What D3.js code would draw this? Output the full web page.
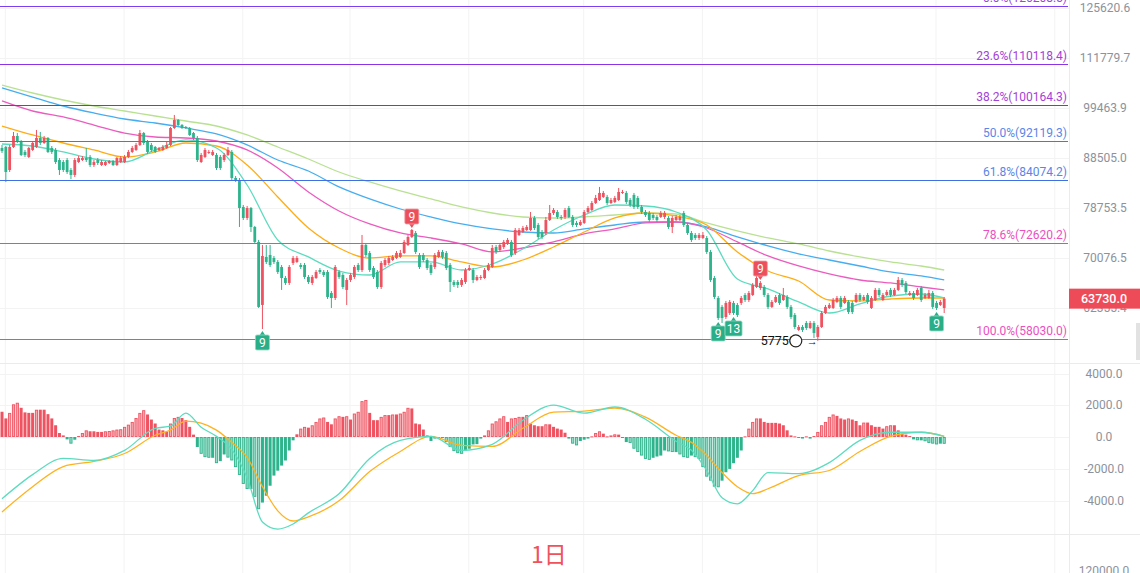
<!DOCTYPE html>
<html><head><meta charset="utf-8">
<script src="https://cdn.jsdelivr.net/npm/d3@7"></script>
<style>html,body{margin:0;padding:0;background:#fff;overflow:hidden}svg{display:block;font-family:Roboto,"Noto Sans",sans-serif}</style>
</head><body><svg id="c" width="1140" height="573"></svg>
<script>
// ---- DATA ----
const candles = [ // [open, high, low, close]
[90600,91240,89550,89970],[90810,91020,83690,85660],[86060,91240,85660,90810],[90810,94050,90600,93170],[93170,93820,91660,92090],
[91880,92310,88920,89130],[89760,90180,88720,89130],[88720,90810,88500,90600],[90180,92090,89970,91660],[90810,94490,90600,92740],
[92740,94050,91240,91660],[91660,93170,91450,92740],[92740,92950,89550,89760],[90600,91020,89340,89760],[90180,90600,87280,87680],
[88090,88500,85070,86060],[87680,88090,85660,86060],[88090,88500,85270,85660],[86060,86460,84270,85070],[85070,88500,84670,88090],
[87680,88920,87480,88500],[88090,88920,87880,88500],[88500,90600,87680,88090],[88720,89130,86670,87070],[87070,88090,86670,87680],
[88090,88500,87070,87480],[87070,88090,86870,87680],[87070,87880,86870,87680],[87480,88090,87280,87880],[87880,88090,86870,87070],
[87070,88720,86870,88500],[87680,88920,87480,88500],[87680,89130,87480,88720],[88720,90180,88500,89760],[89760,91020,89550,90600],
[90180,91660,89970,91240],[91240,94490,91020,93820],[93820,94050,91240,91660],[91880,92310,89340,89760],[91240,91660,89760,90180],
[90810,91020,89550,89760],[90180,90810,89970,90600],[90180,91240,89970,90810],[90600,91880,90390,91240],[91240,95150,91020,94930],
[94930,97860,94710,96720],[96720,96940,95370,95590],[95590,95820,94710,94930],[95150,95370,94710,94930],[94930,95150,93170,93390],
[93820,94050,92310,92740],[92740,93170,87680,88090],[87680,89550,87480,89130],[88720,90600,88500,90180],[89550,90180,89340,89760],
[89130,90180,88920,89760],[89130,89550,86060,86460],[88720,89130,86060,86460],[88090,89550,87680,89130],[89130,90810,88920,90180],
[89760,90180,84080,84470],[84470,84870,83690,84080],[84080,84470,75340,78750],[78940,79310,76580,76940],[76940,79130,76580,78750],
[78750,78940,74460,75340],[75340,75520,72410,72750],[72750,73090,62360,62510],[62800,72240,59370,70410],[70250,72240,69100,69430],
[70570,72240,68620,68940],[70080,70410,69100,69430],[69430,69750,67510,67830],[68620,68940,65040,66880],[66880,67200,65800,66110],
[66110,68940,65800,68620],[69270,70410,68940,70080],[69430,70410,69270,70080],[68940,69270,68300,68620],[68940,69270,66730,67040],
[67040,67350,65950,66260],[66110,67350,65800,67040],[66880,68140,66730,67830],[68140,68460,67510,67830],[67830,68140,67040,67350],
[67830,68140,63680,63980],[64580,64880,62360,63830],[63830,68940,63530,68620],[67830,68140,66730,67040],[67350,67670,65190,65490],
[65040,66880,62800,66570],[66570,67670,66260,67350],[67040,68940,66730,68620],[68940,69270,67830,68140],[68140,73950,67830,72240],
[72240,72580,70250,70570],[70900,71230,67830,68140],[68460,68780,66730,67040],[67830,68140,65190,65490],[65490,69590,65190,69270],
[68940,70080,68620,69750],[69270,70410,68940,70080],[69750,70570,69590,70250],[70080,71230,69910,70900],[70250,71400,70080,70900],
[70900,73090,70740,72750],[72240,73950,72070,73600],[73600,74990,73430,74810],[74290,74640,70740,71070],[70570,70900,68300,68620],
[70570,70900,69430,69750],[69750,70080,68140,68460],[68940,69270,67350,67670],[68620,70900,68300,70570],[70250,71400,70080,71070],
[71070,71400,69910,70250],[70900,71230,68140,68460],[68940,69270,64730,66260],[66260,66570,65490,65800],[66260,66570,65340,65800],
[65800,66880,65490,66570],[66260,68460,65950,68140],[68140,68940,67980,68460],[68140,68460,66110,66570],[66570,67350,66410,67040],
[66880,67350,66570,67040],[66880,68460,66730,68140],[68140,69270,67980,68940],[68620,72240,68460,71730],[71900,72240,70740,71070],
[71400,72580,71070,72240],[71900,73090,71570,72750],[72580,73430,72240,73090],[72750,73090,70250,70570],[70900,75160,70570,74810],
[73950,75160,73770,74810],[74460,75520,74290,75160],[74810,75690,74640,75340],[74810,78020,74640,76940],[76940,77300,74810,75160],
[75690,76050,73260,73600],[74460,74810,73260,73600],[74290,77120,73950,76580],[76580,79310,76400,77840],[77840,78750,77480,78390],
[78020,78390,76760,77120],[77120,77480,76580,76940],[77120,78750,76760,78390],[78750,79130,76940,77120],[77120,77480,75340,75690],
[76050,76400,75340,75690],[75690,76580,75520,76220],[76050,78390,75870,78020],[78020,79130,77840,78750],[78390,80050,78210,79680],
[79680,81190,79490,80620],[80240,82720,80050,81570],[80810,81950,80620,81570],[80810,81190,79310,79680],[79680,80620,79490,80240],
[79870,81000,79680,80620],[80240,82520,80050,81760],[81570,82140,81380,81760],[81570,81950,79490,79870],[80240,80620,78940,79310],
[81190,81570,78570,78940],[80620,81000,78570,78940],[78940,79310,77660,78020],[78020,78390,77120,77480],[77840,78210,76220,76580],
[77480,77840,76580,76940],[77120,77480,76220,76580],[77120,78210,76940,77840],[77120,78210,76760,77840],[76940,77300,74990,75340],
[75340,77300,74290,76940],[76580,77480,76400,77120],[76580,77480,76400,77120],[77840,78210,75340,75690],[75690,76050,73950,74290],
[74290,74640,72750,73090],[73950,74290,73090,73430],[73430,74290,73090,73950],[73430,74460,73260,73950],[73430,73770,70740,71070],
[71070,71400,66260,66570],[66880,67200,63680,63980],[63830,64130,60630,60920],[62510,62800,60210,60920],[61060,63390,60770,63090],
[61630,63530,61350,63240],[63090,63390,61350,61630],[62800,63090,61060,61350],[63090,64130,62800,63830],[64280,64580,63240,63530],
[63530,64880,63240,64580],[64280,66110,64130,65800],[65490,67350,65340,66880],[65340,66410,65040,66110],[65490,65800,63980,64280],
[64280,64580,62210,62510],[62510,63530,62360,63240],[63240,64280,63090,63980],[64280,64580,62800,63090],[63530,65340,63390,64280],
[63980,64280,62210,62510],[62510,62800,60770,61060],[61350,61630,59370,59650],[59240,59930,59100,59650],[59650,59930,58960,59240],
[60210,60490,59240,59510],[59510,60490,59370,60210],[60210,60490,58140,58820],[58280,59930,57750,59650],[59650,61920,59510,61630],
[61630,62800,61490,62510],[62360,63090,62210,62800],[62360,63830,62210,63530],[63240,64130,63090,63830],[63830,64130,62210,62510],
[63090,64130,62950,63830],[63240,63530,61490,61780],[63090,63390,61490,61780],[63240,64580,63090,64280],[64280,64580,63240,63530],
[63530,64280,63390,63980],[64280,64580,62950,63240],[62360,64130,62210,63830],[63530,65340,63390,65040],[65040,65340,63980,64280],
[63530,64580,63390,64280],[64280,65040,64130,64730],[65040,65340,63980,64280],[64280,65340,64130,65040],[65040,67040,64880,66570],
[66570,66880,65490,65800],[66110,66410,64430,64730],[64280,64880,64130,64580],[64580,64880,63530,63830],[64280,65340,64130,65040],
[65340,65650,63240,63530],[63830,64580,63680,64280],[63830,65040,63680,64580],[64580,64880,62210,62510],[63090,63390,62070,62360],
[62800,63530,62650,63240],[62360,63980,61630,63730]
];
const priceTicks = [125620.6, 111779.7, 99463.9, 88505.0, 78753.5, 70076.5, 62355.4];
const macdTicks = [4000, 2000, 0, -2000, -4000];
const fibLevels = [0, 0.236, 0.382, 0.5, 0.618, 0.786, 1];
const fibHigh = 126208.5, fibLow = 58030.0;
const lastPrice = 63730.0;
const maDays = [0,8,16,24,32,40,48,56,64,72,80,88,96,104,112,120,128,136,144,152,160,168,176,184,192,200,208,216,224,232,240,246];
const maLightGreen = [104950,103010,101340,99930,98770,97620,96490,95370,93390,90810,88300,85660,83690,81950,80430,78940,77840,77120,76940,77120,77480,77840,77660,76050,74640,73430,72410,71230,70250,69430,68780,68140];
const maBlue = [104220,102050,99930,98310,96940,96040,94930,93610,91240,88090,85860,82720,80430,78570,77120,75870,74990,74460,74290,74990,75690,76220,76220,75340,73600,72070,70740,69750,68780,67830,67200,66570];
const maPink = [101110,98770,97400,95590,93820,92950,92740,92090,90180,86460,81760,78210,75870,74290,73430,72410,71070,71730,72750,74120,74990,76050,76220,75160,72750,70410,68780,67510,66570,66110,65490,65040];
const maOrange = [95370,93390,91660,90180,88720,89760,91660,91020,87070,80810,75160,71730,70080,70410,70410,69430,68620,69750,71900,74460,76940,77840,77300,75690,71070,67980,66410,63530,63390,63680,63830,63830];
const maTeal = [91450,91020,89760,88300,87680,90180,92310,90600,83100,73090,70250,67980,67350,69430,69430,68140,69100,71570,74810,77480,79310,79120,78020,74810,66730,65190,63240,61630,62950,64130,64430,63830];
const macdDays = [0,8,16,24,32,40,44,48,52,56,60,64,68,72,76,80,88,96,104,112,120,128,136,144,152,160,168,176,180,184,188,192,196,200,208,216,224,232,240,246];
const difValues = [-3890,-2370,-1350,-1480,-840,550,680,1500,620,40,-780,-2560,-5350,-5800,-5480,-4780,-3580,-1350,-210,40,-840,-460,1060,2010,1500,1890,1120,-270,-840,-2110,-3830,-4210,-3380,-2240,-2310,-1610,-210,300,300,40];
const deaValues = [-4720,-3130,-1860,-1540,-1040,110,430,1000,870,430,-340,-1290,-3130,-4650,-5290,-5030,-4020,-2180,-910,40,-530,-590,550,1570,1630,1820,1250,110,-340,-1160,-2240,-3130,-3570,-3260,-2430,-2110,-910,40,300,40];
const histValues = [
1590,1170,1520,2060,2160,1840,1550,1520,1520,1720,
1720,1720,1440,1170,740,250,100,-150,-420,-170,
60,250,420,360,360,320,320,360,380,420,
470,490,640,780,950,1200,1520,1690,1420,1100,
850,470,420,320,850,1200,1270,1200,1060,640,
150,-630,-1060,-1270,-1310,-1310,-1650,-1520,-1100,-1300,
-1480,-1900,-2390,-2960,-3280,-3280,-3770,-4550,-4130,-3700,
-3070,-2430,-2120,-1800,-1480,-850,-210,170,530,640,
590,740,950,1170,1230,950,800,1170,1310,1270,
1310,1100,1480,1590,2260,2330,1520,1060,1060,1270,
1380,1380,1420,1420,1480,1590,1840,1800,850,800,
470,100,-250,-100,-60,-50,-320,-630,-890,-1020,
-1060,-850,-740,-470,-450,
-100,100,420,850,990,1170,1310,950,1170,1200,
1270,1270,1380,850,740,680,680,800,800,640,
530,470,270,-100,-420,-530,-250,-170,-100,40,
250,360,210,40,100,170,150,0,-320,-380,
-740,-950,-1170,-1380,-1440,-1310,-1230,-1170,-850,-910,
-950,-950,-1100,-1270,-1310,-1170,-1270,-1380,-1900,-2500,
-2750,-3130,-3170,-2750,-2220,-2010,-1650,-1310,-850,40,
530,950,1170,1170,950,890,890,890,850,740,
420,100,40,-60,-100,40,-100,60,320,740,
950,1270,1420,1330,1170,1100,1170,1100,1010,740,
910,910,740,640,640,530,680,740,740,420,
210,150,60,-150,-210,-210,-270,-380,-420,-470,
-420,-430
];
const markers = [
  {day:68, text:'9', side:'below'},
  {day:107, text:'9', side:'above'},
  {day:187, text:'9', side:'below'},
  {day:191, text:'13', side:'below'},
  {day:198, text:'9', side:'above'},
  {day:244, text:'9', side:'below'}
];
const lowMark = {day:213, value:57750};
const monthDays = [1,32,63,91,122,152,183,213,244,275];
const periodLabel = '1日';
const bottomAxisValue = 120000.0;

// ---- STYLE ----
const UP = '#ef5361', DOWN = '#2db48c', UP_LIGHT = '#f7abb1', DOWN_LIGHT = '#9adcc8';
const fibLineColors = ['#7b3ff0','#8d33e6','#a21ee2','#3b7ce8','#3f70e2','#f23cc6','#f23cc6'];
const fibTextColors = ['#9a45e0','#a43fd8','#a43fd8','#5a86e8','#5a86e8','#ec4fc0','#ec4fc0'];
const axisColor = '#8c929c', gridColor = '#f3f3f3', borderColor = '#ebebeb';

const svg = d3.select('#c');
const axisX = 1069;
const x = d3.scaleLinear().domain([0, candles.length - 1]).range([2, 944.2]);
const y = d3.scaleLog().domain([62355.4, 125620.6]).range([308, 8]);
const ym = d3.scaleLinear().domain([-4000, 4000]).range([500.5, 373.5]);

svg.append('rect').attr('width',1140).attr('height',573).attr('fill','#fff');
const defs = svg.append('defs');
defs.append('clipPath').attr('id','mainClip').append('rect').attr('x',0).attr('y',0).attr('width',axisX).attr('height',362);
defs.append('clipPath').attr('id','macdClip').append('rect').attr('x',0).attr('y',364).attr('width',axisX).attr('height',170);

// grids
const g0 = svg.append('g');
g0.selectAll('.vg').data(monthDays).enter().append('line')
  .attr('x1',d=>x(d)-0.5).attr('x2',d=>x(d)-0.5).attr('y1',0).attr('y2',573)
  .attr('stroke',gridColor).attr('stroke-width',1);
g0.selectAll('.hg').data(priceTicks).enter().append('line')
  .attr('x1',0).attr('x2',axisX).attr('y1',d=>Math.round(y(d))+0.5).attr('y2',d=>Math.round(y(d))+0.5)
  .attr('stroke',gridColor);
g0.selectAll('.mg').data(macdTicks).enter().append('line')
  .attr('x1',0).attr('x2',axisX).attr('y1',d=>Math.round(ym(d))+0.5).attr('y2',d=>Math.round(ym(d))+0.5)
  .attr('stroke',gridColor);
[363.5, 534.5].forEach(v=>g0.append('line').attr('x1',0).attr('x2',1140).attr('y1',v).attr('y2',v).attr('stroke',borderColor));
g0.append('line').attr('x1',axisX+0.5).attr('x2',axisX+0.5).attr('y1',0).attr('y2',573).attr('stroke',borderColor);

// fib lines
const main = svg.append('g').attr('clip-path','url(#mainClip)');
const fibG = svg.append('g');
fibLevels.forEach((lv,i)=>{
  const v = fibHigh - lv*(fibHigh - fibLow);
  const yy = Math.round(y(v))+0.5;
  fibG.append('line').attr('x1',0).attr('x2',axisX-1).attr('y1',yy).attr('y2',yy)
    .attr('stroke',fibLineColors[i]).attr('stroke-width',1.2);
  fibG.append('text').attr('x',axisX-2).attr('y',yy-5).attr('text-anchor','end')
    .attr('font-size',12).attr('fill',fibTextColors[i])
    .text((lv*100).toFixed(1)+'%('+v.toFixed(1)+')');
});

// MA lines
const maLine = d3.line().x((d,i)=>x(maDays[i])).y(d=>y(d)).curve(d3.curveMonotoneX);
[[maLightGreen,'#b9e192'],[maBlue,'#46aef0'],[maPink,'#ec5cbf'],[maOrange,'#ffad14'],[maTeal,'#5cdcbf']].forEach(([arr,col])=>{
  main.append('path').attr('d',maLine(arr)).attr('fill','none').attr('stroke',col).attr('stroke-width',1.3);
});

// candles
const cg = main.append('g');
candles.forEach((c,i)=>{
  const [o,h,l,cl] = c;
  const up = cl >= o;
  const col = up ? UP : DOWN;
  const cx = x(i);
  cg.append('line').attr('x1',cx).attr('x2',cx).attr('y1',y(h)).attr('y2',y(l)).attr('stroke',col).attr('stroke-width',1);
  const top = y(Math.max(o,cl)), bot = y(Math.min(o,cl));
  cg.append('rect').attr('x',cx-1.4).attr('width',2.8).attr('y',top).attr('height',Math.max(1,bot-top)).attr('fill',col);
});

// TD markers
markers.forEach(m=>{
  const c = candles[m.day];
  const cx = x(m.day);
  const w = m.text.length>1 ? 17 : 14, hgt = 15;
  const g = svg.append('g');
  let boxTop, path, col;
  if (m.side==='below'){
    const tip = y(c[2]) + 2;
    boxTop = tip + 4; col = '#2aae88';
    path = `M${cx-3},${tip+4.5}L${cx},${tip}L${cx+3},${tip+4.5}Z`;
  } else {
    const tip = y(c[1]) - 1;
    boxTop = tip - 4 - hgt; col = '#ec4f5b';
    path = `M${cx-3},${tip-4.5}L${cx},${tip}L${cx+3},${tip-4.5}Z`;
  }
  g.append('path').attr('d',path).attr('fill',col);
  g.append('rect').attr('x',cx-w/2).attr('y',boxTop).attr('width',w).attr('height',hgt).attr('rx',1.5).attr('fill',col)
    .attr('stroke',m.side==='below'?'#8fd9c1':'#f4a0a6').attr('stroke-width',0.8);
  g.append('text').attr('x',cx).attr('y',boxTop+hgt/2).attr('dy','0.36em').attr('text-anchor','middle')
    .attr('font-size',12).attr('fill','#fff').text(m.text);
});

// low annotation
(function(){
  const lx = x(lowMark.day), ly = y(lowMark.value);
  svg.append('text').attr('x',lx-57).attr('y',ly+4.5).attr('font-size',12.5).attr('fill','#111').text(String(lowMark.value));
  svg.append('circle').attr('cx',lx-22).attr('cy',ly).attr('r',6).attr('fill','#fff').attr('stroke','#222').attr('stroke-width',1.2);
  svg.append('text').attr('x',lx-11).attr('y',ly+4).attr('font-size',11).attr('fill','#111').text('→');
})();

// MACD
const mg = svg.append('g').attr('clip-path','url(#macdClip)');
const y0 = ym(0);
histValues.forEach((v,i)=>{
  const prev = i>0 ? histValues[i-1] : null;
  const grow = prev!==null && Math.sign(v)===Math.sign(prev) && Math.abs(v) > Math.abs(prev);
  const col = v >= 0 ? UP : DOWN;
  const light = v >= 0 ? UP_LIGHT : DOWN_LIGHT;
  const cx = x(i);
  const top = Math.min(ym(v), y0), bot = Math.max(ym(v), y0);
  const hh = Math.max(1, bot-top);
  if (grow) {
    mg.append('rect').attr('x',cx-1.1).attr('width',2.2).attr('y',top+0.5).attr('height',Math.max(0.5,hh-1))
      .attr('fill',light).attr('stroke',col).attr('stroke-width',0.9);
  } else {
    mg.append('rect').attr('x',cx-1.5).attr('width',3).attr('y',top).attr('height',hh).attr('fill',col);
  }
});
const mLine = d3.line().x((d,i)=>x(macdDays[i])).y(d=>ym(d)).curve(d3.curveMonotoneX);
mg.append('path').attr('d',mLine(deaValues)).attr('fill','none').attr('stroke','#ffb21f').attr('stroke-width',1.3);
mg.append('path').attr('d',mLine(difValues)).attr('fill','none').attr('stroke','#5cdcbf').attr('stroke-width',1.3);

// right axis labels
const ax = svg.append('g').attr('font-size',12).attr('fill',axisColor).attr('text-anchor','middle');
priceTicks.forEach(v=>ax.append('text').attr('x',1105).attr('y',y(v)).attr('dy','0.35em').text(v.toFixed(1)));
macdTicks.forEach(v=>ax.append('text').attr('x',1104).attr('y',ym(v)).attr('dy','0.35em').text(v.toFixed(1)));
ax.append('text').attr('x',1104).attr('y',575).text(bottomAxisValue.toFixed(1));

// last price tag
const ly = y(lastPrice);
svg.append('rect').attr('x',axisX).attr('y',ly-10).attr('width',1140-axisX).attr('height',20).attr('fill','#ee4b58');
svg.append('text').attr('x',1104).attr('y',ly).attr('dy','0.36em').attr('text-anchor','middle').attr('font-size',12.5)
  .attr('font-weight',500).attr('fill','#fff').text(lastPrice.toFixed(1));
svg.append('rect').attr('x',1136).attr('y',323).attr('width',4).attr('height',37).attr('fill','#e2e2e2');

// period label
svg.append('text').attr('x',549).attr('y',563).attr('text-anchor','middle').attr('font-size',23)
  .attr('font-family','"Noto Sans CJK SC",Roboto,sans-serif').attr('fill','#f0525c').text(periodLabel);
</script></body></html>
